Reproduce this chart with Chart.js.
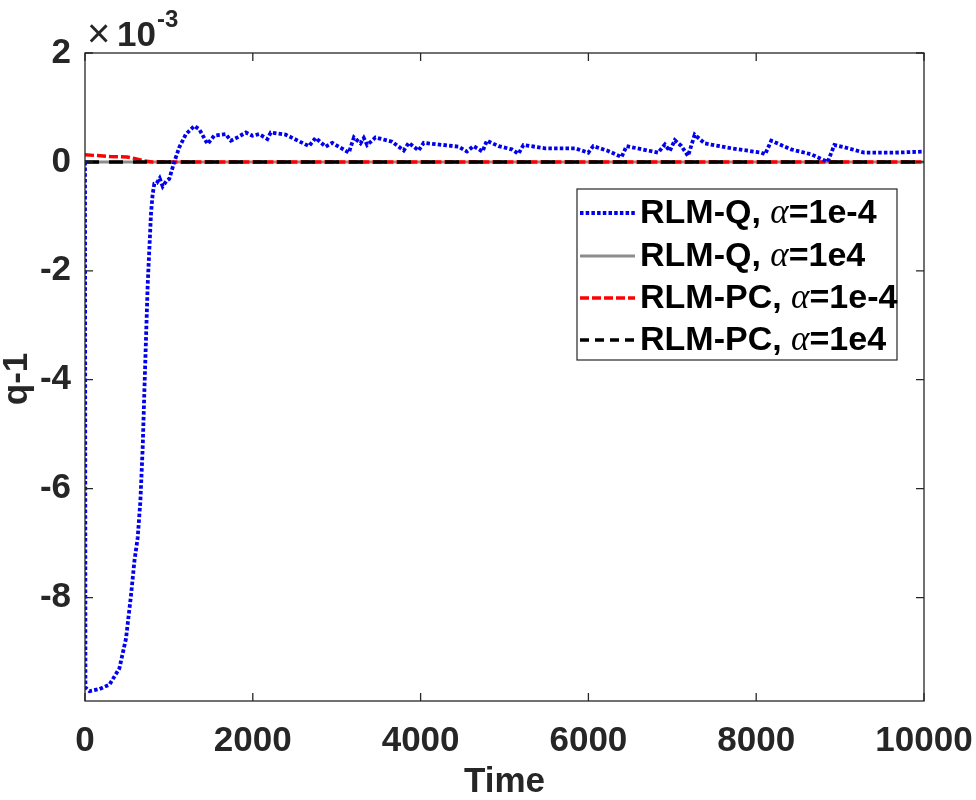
<!DOCTYPE html>
<html>
<head>
<meta charset="utf-8">
<script src="https://cdn.jsdelivr.net/npm/chart.js@4.4.1/dist/chart.umd.min.js"></script>
<style>
html,body{margin:0;padding:0;background:#fff;}
#wrap{width:976px;height:800px;}
</style>
</head>
<body>
<div id="wrap"><canvas id="c" width="976" height="800"></canvas></div>
<script>
// values are in units of 1e-3 (axis exponent shown as ×10^-3)
const yExponent = -3;
const xTicks = [0, 2000, 4000, 6000, 8000, 10000];
const yTicks = [-8, -6, -4, -2, 0, 2];

const seriesNames = ["RLM-Q, |α|=1e-4", "RLM-Q, |α|=1e4", "RLM-PC, |α|=1e-4", "RLM-PC, |α|=1e4"];

const qSmallTime = [0, 5, 54, 172, 291, 410, 489, 549, 589, 628, 660, 688, 707, 727, 747, 767, 787, 806, 826, 854, 890, 926, 970, 1005, 1064, 1124, 1203, 1302, 1362, 1460, 1540, 1679, 1738, 1817, 1917, 1996, 2075, 2174, 2214, 2392, 2669, 2749, 2868, 2947, 3145, 3205, 3284, 3323, 3363, 3462, 3660, 3799, 3859, 3977, 4037, 4453, 4552, 4631, 4738, 4790, 4929, 5087, 5166, 5226, 5484, 5840, 5999, 6058, 6237, 6395, 6455, 6831, 6911, 6970, 7030, 7109, 7188, 7267, 7386, 7703, 8060, 8107, 8179, 8416, 8654, 8852, 8932, 9051, 9289, 9646, 10000];
const qSmallValue = [0, -9.65, -9.72, -9.68, -9.6, -9.3, -8.75, -7.95, -7.33, -6.9, -6.23, -5.23, -4.24, -3.25, -2.26, -1.6, -0.94, -0.6, -0.4, -0.39, -0.3, -0.45, -0.35, -0.31, 0, 0.27, 0.51, 0.66, 0.60, 0.33, 0.48, 0.51, 0.39, 0.45, 0.54, 0.48, 0.51, 0.42, 0.54, 0.50, 0.29, 0.44, 0.28, 0.35, 0.17, 0.45, 0.34, 0.44, 0.31, 0.45, 0.37, 0.21, 0.35, 0.21, 0.35, 0.28, 0.19, 0.29, 0.19, 0.39, 0.29, 0.23, 0.15, 0.31, 0.25, 0.25, 0.17, 0.29, 0.2, 0.09, 0.29, 0.17, 0.32, 0.2, 0.4, 0.29, 0.11, 0.5, 0.34, 0.25, 0.17, 0.14, 0.39, 0.23, 0.14, 0.0, 0.31, 0.27, 0.17, 0.17, 0.19];

const qLargeTime = [0, 10000];
const qLargeValue = [0, 0];

const pcSmallTime = [0, 100, 300, 500, 600, 700, 800, 10000];
const pcSmallValue = [0.13, 0.12, 0.1, 0.09, 0.06, 0.02, 0, 0];

const pcLargeTime = [0, 10000];
const pcLargeValue = [0, 0];

function pts(t, v) { return t.map((x, i) => ({ x: x, y: v[i] })); }

const AX = '#262626';
const FONT = 'Arial, "Liberation Sans", sans-serif';

const styles = [
  { color: '#0000ee', dash: [3.5, 2.2], width: 3.8, order: 0 },
  { color: '#8c8c8c', dash: [], width: 3, order: 3 },
  { color: '#ff0000', dash: [9, 3], width: 3.5, order: 2 },
  { color: '#000000', dash: [14, 10], width: 3.5, order: 1 }
];

const dataSets = [
  pts(qSmallTime, qSmallValue),
  pts(qLargeTime, qLargeValue),
  pts(pcSmallTime, pcSmallValue),
  pts(pcLargeTime, pcLargeValue)
];

const decorPlugin = {
  id: 'decor',
  afterDraw(chart) {
    const ctx = chart.ctx;
    const a = chart.chartArea;
    const xs = chart.scales.x, ys = chart.scales.y;
    ctx.save();
    // box
    ctx.strokeStyle = AX;
    ctx.lineWidth = 1.3;
    ctx.strokeRect(a.left, a.top, a.right - a.left, a.bottom - a.top);
    // inward ticks
    const tl = 8;
    ctx.beginPath();
    xTicks.forEach(v => {
      const px = xs.getPixelForValue(v);
      ctx.moveTo(px, a.bottom); ctx.lineTo(px, a.bottom - tl);
      ctx.moveTo(px, a.top); ctx.lineTo(px, a.top + tl);
    });
    yTicks.forEach(v => {
      const py = ys.getPixelForValue(v);
      ctx.moveTo(a.left, py); ctx.lineTo(a.left + tl, py);
      ctx.moveTo(a.right, py); ctx.lineTo(a.right - tl, py);
    });
    ctx.stroke();

    // axis titles
    ctx.fillStyle = AX;
    ctx.font = 'bold 35px ' + FONT;
    ctx.textAlign = 'center';
    ctx.textBaseline = 'alphabetic';
    ctx.fillText('Time', (a.left + a.right) / 2, 792);
    ctx.save();
    ctx.translate(27, (a.top + a.bottom) / 2 + 2);
    ctx.rotate(-Math.PI / 2);
    ctx.fillText('q-1', 0, 0);
    ctx.restore();

    // exponent label
    ctx.textAlign = 'left';
    ctx.font = '40px ' + FONT;
    ctx.fillText('\u00d7', 87, 47);
    ctx.font = 'bold 35px ' + FONT;
    ctx.fillText('10', 117, 46);
    ctx.font = 'bold 24px ' + FONT;
    ctx.fillText(String(yExponent), 157, 27);

    // legend
    const lx = 577, ly = 189, lw = 320, lh = 171;
    ctx.fillStyle = '#fff';
    ctx.fillRect(lx, ly, lw, lh);
    ctx.strokeStyle = AX;
    ctx.lineWidth = 1.2;
    ctx.strokeRect(lx, ly, lw, lh);
    const rowY = [213, 256, 298, 340];
    seriesNames.forEach((name, i) => {
      const st = styles[i];
      const y = rowY[i];
      ctx.save();
      ctx.strokeStyle = st.color;
      ctx.lineWidth = st.width;
      ctx.setLineDash(i === 3 ? [9, 6] : st.dash);
      ctx.beginPath();
      ctx.moveTo(lx + 3, y); ctx.lineTo(lx + 58, y);
      ctx.stroke();
      ctx.restore();
      const parts = name.split('|');
      let x = lx + 63;
      ctx.fillStyle = '#000';
      ctx.textBaseline = 'middle';
      parts.forEach((p, k) => {
        ctx.font = (k === 1) ? 'italic 35px "Liberation Serif", "Times New Roman", serif' : 'bold 34px ' + FONT;
        ctx.fillText(p, x, y + 1);
        x += ctx.measureText(p).width;
      });
    });
    ctx.restore();
  }
};

new Chart(document.getElementById('c'), {
  type: 'line',
  data: {
    datasets: dataSets.map((d, i) => ({
      label: seriesNames[i].replace(/\|/g, ''),
      data: d,
      borderColor: styles[i].color,
      borderWidth: styles[i].width,
      borderDash: styles[i].dash,
      pointRadius: 0,
      fill: false,
      tension: 0,
      order: styles[i].order
    }))
  },
  options: {
    responsive: false,
    animation: false,
    layout: { padding: { top: 53, right: 52, left: 0, bottom: 0 } },
    plugins: { legend: { display: false }, tooltip: { enabled: false } },
    scales: {
      x: {
        type: 'linear', min: 0, max: 10000,
        afterBuildTicks: s => { s.ticks = xTicks.map(v => ({ value: v })); },
        afterFit: s => { s.height = 99; s.paddingLeft = 0; s.paddingRight = 0; },
        grid: { display: false, drawTicks: false },
        border: { display: false },
        ticks: { color: AX, font: { family: FONT, size: 35, weight: 'bold' }, padding: 19, maxRotation: 0, callback: v => String(v) }
      },
      y: {
        type: 'linear', min: -9.9, max: 2,
        afterBuildTicks: s => { s.ticks = yTicks.map(v => ({ value: v })); },
        afterFit: s => { s.width = 85; s.paddingTop = 0; s.paddingBottom = 0; },
        grid: { display: false, drawTicks: false },
        border: { display: false },
        ticks: { color: AX, font: { family: FONT, size: 35, weight: 'bold' }, padding: 14, callback: v => String(v) }
      }
    }
  },
  plugins: [decorPlugin]
});
</script>
</body>
</html>
